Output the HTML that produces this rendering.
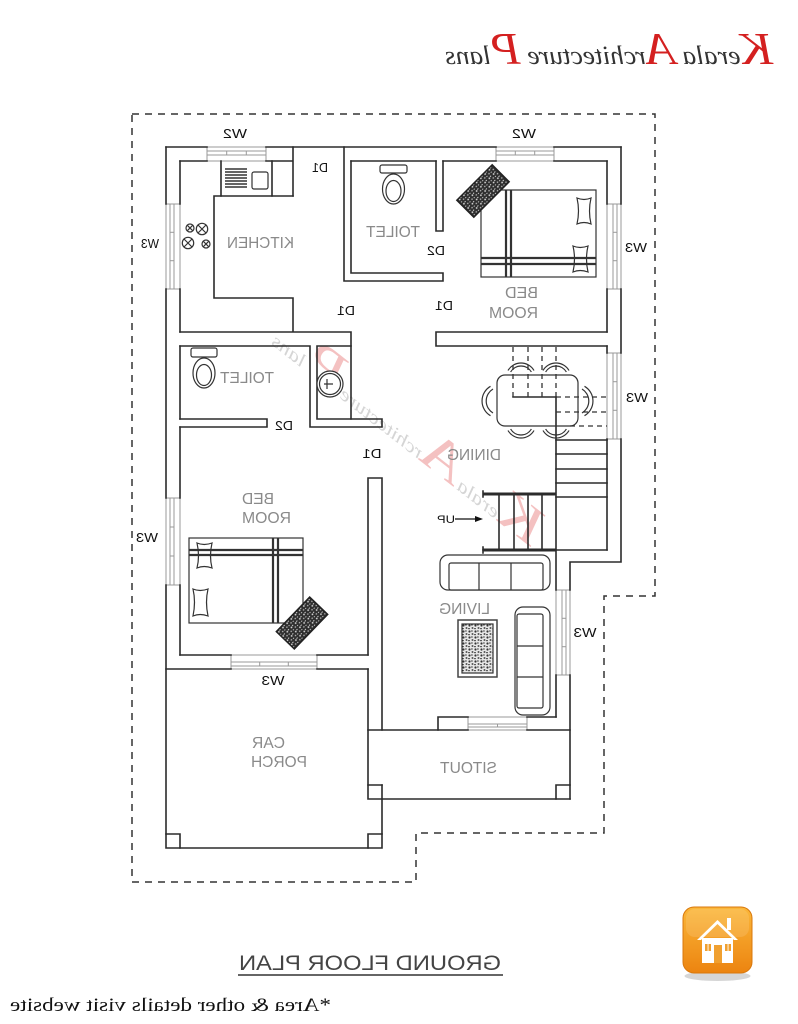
<!DOCTYPE html>
<html><head><meta charset="utf-8">
<style>
html,body{margin:0;padding:0;background:#fff;width:798px;height:1024px;overflow:hidden}
svg{display:block}
.lbl{font-family:"Liberation Sans",sans-serif;fill:#8a8a8a;font-size:16px}
.sm{font-family:"Liberation Sans",sans-serif;fill:#111;font-size:13px}
</style></head>
<body>
<svg width="798" height="1024" viewBox="0 0 798 1024" xmlns="http://www.w3.org/2000/svg">
<defs>
<pattern id="speck" width="6" height="6" patternUnits="userSpaceOnUse">
<rect width="6" height="6" fill="#2e2e2e"/>
<circle cx="1.5" cy="1.5" r="0.9" fill="#ddd"/>
<circle cx="4.5" cy="4" r="0.8" fill="#bbb"/>
<rect x="3" y="0.5" width="1.5" height="0.8" fill="#eee"/>
<rect x="0.5" y="4" width="1.2" height="1" fill="#ccc"/>
</pattern>
<pattern id="speck2" width="6" height="6" patternUnits="userSpaceOnUse">
<rect width="6" height="6" fill="#e8e8e8"/>
<circle cx="1.5" cy="1.5" r="1.1" fill="#333"/>
<circle cx="4.5" cy="4" r="1" fill="#555"/>
<rect x="3" y="0.5" width="1.8" height="1" fill="#444"/>
<rect x="0.3" y="4" width="1.4" height="1.2" fill="#222"/>
</pattern>
<linearGradient id="og" x1="0" y1="0" x2="0" y2="1">
<stop offset="0" stop-color="#fbb73a"/>
<stop offset="1" stop-color="#ec8410"/>
</linearGradient>
</defs>
<rect width="798" height="1024" fill="#fff"/>

<!-- Logo -->
<g transform="translate(609,0) scale(-1,1)">
<text x="0" y="64" text-anchor="middle" font-family="Liberation Serif, serif" font-style="italic" textLength="328" lengthAdjust="spacingAndGlyphs"><tspan fill="#d42020" font-size="46">K</tspan><tspan fill="#333" font-size="26">erala </tspan><tspan fill="#d42020" font-size="46">A</tspan><tspan fill="#333" font-size="26">rchitecture </tspan><tspan fill="#d42020" font-size="46">P</tspan><tspan fill="#333" font-size="26">lans</tspan></text>
</g>

<!-- Watermark -->
<g opacity="0.35" transform="translate(400,445) rotate(38) scale(-1,1)">
<text x="0" y="0" text-anchor="middle" font-family="Liberation Serif, serif" font-style="italic" textLength="330" lengthAdjust="spacingAndGlyphs"><tspan fill="#e05050" font-size="52">K</tspan><tspan fill="#888" font-size="18">erala </tspan><tspan fill="#e05050" font-size="52">A</tspan><tspan fill="#888" font-size="18">rchitecture </tspan><tspan fill="#e05050" font-size="52">P</tspan><tspan fill="#888" font-size="18">lans</tspan></text>
</g>

<!-- Dashed boundary -->
<path d="M132,114 H655 V596 H604 V833 H416 V882 H132 Z" fill="none" stroke="#333" stroke-width="1.5" stroke-dasharray="7 6"/>

<!-- Windows -->
<g fill="#fff" stroke="#999" stroke-width="1">
<rect x="207" y="147" width="59" height="14"/><line x1="207" y1="151" x2="266" y2="151"/><line x1="207" y1="155" x2="266" y2="155"/><line x1="226.7" y1="151" x2="226.7" y2="155"/><line x1="246.3" y1="151" x2="246.3" y2="155"/>
<rect x="496" y="147" width="58" height="14"/><line x1="496" y1="151" x2="554" y2="151"/><line x1="496" y1="155" x2="554" y2="155"/><line x1="515.3" y1="151" x2="515.3" y2="155"/><line x1="534.7" y1="151" x2="534.7" y2="155"/>
<rect x="231" y="655" width="86" height="14"/><line x1="231" y1="662" x2="317" y2="662"/><line x1="231" y1="666" x2="317" y2="666"/><line x1="259.7" y1="662" x2="259.7" y2="666"/><line x1="288.3" y1="662" x2="288.3" y2="666"/>
<rect x="468" y="717" width="59" height="13"/><line x1="468" y1="724" x2="527" y2="724"/><line x1="468" y1="727" x2="527" y2="727"/><line x1="497.5" y1="724" x2="497.5" y2="727"/>
<rect x="166" y="204" width="14" height="85"/><line x1="170" y1="204" x2="170" y2="289"/><line x1="174" y1="204" x2="174" y2="289"/><line x1="170" y1="232.3" x2="174" y2="232.3"/><line x1="170" y1="260.7" x2="174" y2="260.7"/>
<rect x="166" y="498" width="14" height="87"/><line x1="170" y1="498" x2="170" y2="585"/><line x1="174" y1="498" x2="174" y2="585"/><line x1="170" y1="527" x2="174" y2="527"/><line x1="170" y1="556" x2="174" y2="556"/>
<rect x="607" y="204" width="14" height="85"/><line x1="613" y1="204" x2="613" y2="289"/><line x1="617" y1="204" x2="617" y2="289"/><line x1="613" y1="232.3" x2="617" y2="232.3"/><line x1="613" y1="260.7" x2="617" y2="260.7"/>
<rect x="607" y="353" width="14" height="86"/><line x1="613" y1="353" x2="613" y2="439"/><line x1="617" y1="353" x2="617" y2="439"/><line x1="613" y1="381.7" x2="617" y2="381.7"/><line x1="613" y1="410.3" x2="617" y2="410.3"/>
<rect x="556" y="590" width="14" height="85"/><line x1="562" y1="590" x2="562" y2="675"/><line x1="566" y1="590" x2="566" y2="675"/><line x1="562" y1="618.3" x2="566" y2="618.3"/><line x1="562" y1="646.7" x2="566" y2="646.7"/>
</g>

<!-- Walls -->
<g fill="none" stroke="#2b2b2b" stroke-width="1.6" stroke-linecap="square">
<path d="M166,147 H207 M266,147 H496 M554,147 H621"/>
<path d="M621,147 V204 M621,289 V353 M621,439 V562 H570 V590 M570,675 V799"/>
<path d="M607,161 V204 M607,289 V332 M607,346 V353 M607,439 V550"/>
<path d="M180,161 H207 M266,161 H293 M293,147 V196 M351,161 H436 M443,161 H496 M554,161 H607"/>
<path d="M166,147 V204 M166,289 V498 M166,585 V848 H382 V785"/>
<path d="M180,161 V204 M180,289 V332 M180,346 V419 M180,427 V498 M180,585 V655"/>
<path d="M214,196 H293 M214,196 V298 H293 V332 M180,332 H351 V419"/>
<path d="M221,161 V196 M272,161 V196"/>
<path d="M180,346 H310 V427 M317,346 H351 M317,346 V419 H382 V427 H310 M180,419 H267 V427 H180"/>
<path d="M344,147 V281 H443 V273 H351 V161 M436,161 V231 H443 V161"/>
<path d="M436,332 H607 M436,346 H607 M436,332 V346"/>
<path d="M368,478 H382 V730 M368,478 V655 M368,669 V799 H570"/>
<path d="M180,655 H231 M317,655 H368 M166,669 H231 M317,669 H368"/>
<path d="M368,730 H468 M527,730 H570"/>
<path d="M438,717 H468 M438,717 V730 M527,717 H556"/>
<path d="M556,397 V590 M556,675 V717"/>
<path d="M368,785 H382 M556,785 V799 M556,785 H570"/>
<path d="M166,834 H180 V848 M368,834 H382 M368,834 V848"/>
<path d="M556,440 H607 M556,454 H607 M556,469 H607 M556,483 H607 M556,497 H607"/>
<path d="M483,550 H607"/>
<path d="M499,494 V550 M514,494 V550 M528,494 V550 M542,494 V550 M483,491 V497 M483,547 V553"/>
<path d="M513,397 H556"/>
</g>
<g stroke="#2b2b2b" fill="none">
<path d="M483,494 H556" stroke-width="3"/>
<path d="M483,550 H556" stroke-width="3"/>
</g>
<g stroke="#333" stroke-width="1.3" stroke-dasharray="5 4" fill="none">
<path d="M513,347 V397 M528,347 V397 M542,347 V397 M556,347 V397"/>
<path d="M556,397 H607 M556,412 H607 M570,426 H607"/>
</g>

<!-- Kitchen counter items -->
<g fill="none" stroke="#333" stroke-width="1.2">
<path d="M225,169 H247 M225,172 H247 M225,175 H247 M225,178 H247 M225,181 H247 M225,184 H247 M225,187 H247" stroke-width="1.6"/>
<rect x="252" y="172" width="16" height="17" rx="2"/>
<circle cx="190" cy="228" r="4"/><path d="M187.2,225.2 L192.8,230.8 M192.8,225.2 L187.2,230.8"/>
<circle cx="202" cy="229" r="5.7"/><path d="M198,225 L206,233 M206,225 L198,233"/>
<circle cx="188" cy="243" r="5.7"/><path d="M184,239 L192,247 M192,239 L184,247"/>
<circle cx="206" cy="244" r="4"/><path d="M203.2,241.2 L208.8,246.8 M208.8,241.2 L203.2,246.8"/>
</g>

<!-- Toilets -->
<g fill="#fff" stroke="#333" stroke-width="1.2">
<rect x="380" y="165" width="27" height="8" rx="2"/>
<ellipse cx="393.5" cy="189" rx="11" ry="15"/>
<ellipse cx="393.5" cy="191" rx="7.5" ry="10.5"/>
<rect x="191" y="348" width="26" height="9" rx="2"/>
<ellipse cx="204" cy="373" rx="11" ry="15"/>
<ellipse cx="204" cy="375" rx="7.5" ry="10.5"/>
<circle cx="330" cy="384" r="13"/>
<circle cx="330" cy="384" r="10.5"/>
<path d="M324,384 H333 M327,379 V389" fill="none"/>
</g>

<!-- Bed 1 -->
<g fill="none" stroke="#333" stroke-width="1.2">
<rect x="481" y="190" width="115" height="87" fill="#fff"/>
<path d="M506,190 V277 M511,190 V277" stroke-width="2.2"/>
<path d="M481,258 H596 M481,264 H596" stroke-width="2.2"/>
<path d="M577,198 Q584,201 591,198 Q588,211 591,224 Q584,221 577,224 Q580,211 577,198 Z"/>
<path d="M573,246 Q580,249 588,246 Q585,259 588,272 Q580,269 573,272 Q576,259 573,246 Z"/>
</g>
<g transform="translate(483,191) rotate(-45)">
<rect x="-25" y="-12" width="50" height="24" fill="url(#speck)" stroke="#222" stroke-width="1.5"/>
</g>

<!-- Bed 2 -->
<g fill="none" stroke="#333" stroke-width="1.2">
<rect x="189" y="538" width="114" height="85" fill="#fff"/>
<path d="M273,538 V623 M278,538 V623" stroke-width="2.2"/>
<path d="M189,550 H303 M189,555 H303" stroke-width="2.2"/>
<path d="M197,543 Q204,546 212,543 Q209,556 212,568 Q204,565 197,568 Q200,556 197,543 Z"/>
<path d="M193,589 Q200,592 208,589 Q205,602 208,616 Q200,613 193,616 Q196,602 193,589 Z"/>
</g>
<g transform="translate(302,623) rotate(-46)">
<rect x="-24" y="-12.5" width="48" height="25" fill="url(#speck)" stroke="#222" stroke-width="1.5"/>
</g>

<!-- Dining -->
<g fill="none" stroke="#333" stroke-width="1.2">
<rect x="497" y="375" width="81" height="51" rx="8" fill="none"/>
<path d="M508,370.5 A15,15 0 0 1 534,370.5 M510.6,372 A12,12 0 0 1 531.4,372"/>
<path d="M543,370.5 A15,15 0 0 1 569,370.5 M545.6,372 A12,12 0 0 1 566.4,372"/>
<path d="M508,430.5 A15,15 0 0 0 534,430.5 M510.6,429 A12,12 0 0 0 531.4,429"/>
<path d="M543,430.5 A15,15 0 0 0 569,430.5 M545.6,429 A12,12 0 0 0 566.4,429"/>
<path d="M490.5,386.3 A17,17 0 0 0 490.5,415.7 M493,389 A14,14 0 0 0 493,413"/>
<path d="M584.5,386.3 A17,17 0 0 1 584.5,415.7 M582,389 A14,14 0 0 1 582,413"/>
</g>

<!-- UP arrow -->
<path d="M455,519 H477" stroke="#111" stroke-width="1.2"/>
<polygon points="483,519 475,516 475,522" fill="#111"/>

<!-- Living sofas and rug -->
<g fill="#fff" stroke="#333" stroke-width="1.2">
<rect x="440" y="555" width="110" height="35" rx="8"/>
<rect x="449" y="563" width="94" height="27" rx="2"/>
<path d="M479,563 V590 M511,563 V590" fill="none"/>
<rect x="515" y="607" width="35" height="108" rx="8"/>
<rect x="517" y="614" width="26" height="94" rx="2"/>
<path d="M517,646 H543 M517,677 H543" fill="none"/>
<rect x="458" y="620" width="39" height="57" fill="#fff" stroke="#444" stroke-width="1.5"/>
<rect x="462" y="624" width="31" height="49" fill="url(#speck2)" stroke="#333"/>
</g>

<!-- Room labels (mirrored) -->
<g class="lbl">
<text transform="translate(260.5,248) scale(-1,1)" text-anchor="middle" textLength="67" lengthAdjust="spacingAndGlyphs">KITCHEN</text>
<text transform="translate(393,237) scale(-1,1)" text-anchor="middle" textLength="54" lengthAdjust="spacingAndGlyphs">TOILET</text>
<text transform="translate(521.5,298) scale(-1,1)" text-anchor="middle" textLength="33" lengthAdjust="spacingAndGlyphs">BED</text>
<text transform="translate(513.5,318) scale(-1,1)" text-anchor="middle" textLength="49" lengthAdjust="spacingAndGlyphs">ROOM</text>
<text transform="translate(247,383) scale(-1,1)" text-anchor="middle" textLength="54" lengthAdjust="spacingAndGlyphs">TOILET</text>
<text transform="translate(258,504) scale(-1,1)" text-anchor="middle" textLength="32" lengthAdjust="spacingAndGlyphs">BED</text>
<text transform="translate(266.5,523) scale(-1,1)" text-anchor="middle" textLength="49" lengthAdjust="spacingAndGlyphs">ROOM</text>
<text transform="translate(474,460) scale(-1,1)" text-anchor="middle" textLength="54" lengthAdjust="spacingAndGlyphs">DINING</text>
<text transform="translate(464.5,614) scale(-1,1)" text-anchor="middle" textLength="51" lengthAdjust="spacingAndGlyphs">LIVING</text>
<text transform="translate(268.5,748) scale(-1,1)" text-anchor="middle" textLength="33" lengthAdjust="spacingAndGlyphs">CAR</text>
<text transform="translate(279,767) scale(-1,1)" text-anchor="middle" textLength="56" lengthAdjust="spacingAndGlyphs">PORCH</text>
<text transform="translate(468.5,773) scale(-1,1)" text-anchor="middle" textLength="57" lengthAdjust="spacingAndGlyphs">SITOUT</text>
</g>

<!-- Small labels (mirrored) -->
<g class="sm">
<text transform="translate(235,138) scale(-1,1)" text-anchor="middle" textLength="24" lengthAdjust="spacingAndGlyphs">W2</text>
<text transform="translate(524,138) scale(-1,1)" text-anchor="middle" textLength="24" lengthAdjust="spacingAndGlyphs">W2</text>
<text transform="translate(150,248) scale(-1,1)" text-anchor="middle" textLength="18" lengthAdjust="spacingAndGlyphs">W3</text>
<text transform="translate(147,542) scale(-1,1)" text-anchor="middle" textLength="22" lengthAdjust="spacingAndGlyphs">W3</text>
<text transform="translate(636,252) scale(-1,1)" text-anchor="middle" textLength="22" lengthAdjust="spacingAndGlyphs">W3</text>
<text transform="translate(637,402) scale(-1,1)" text-anchor="middle" textLength="22" lengthAdjust="spacingAndGlyphs">W3</text>
<text transform="translate(585,637) scale(-1,1)" text-anchor="middle" textLength="23" lengthAdjust="spacingAndGlyphs">W3</text>
<text transform="translate(273,685) scale(-1,1)" text-anchor="middle" textLength="23" lengthAdjust="spacingAndGlyphs">W3</text>
<text transform="translate(320,172) scale(-1,1)" text-anchor="middle" textLength="16" lengthAdjust="spacingAndGlyphs">D1</text>
<text transform="translate(346,315) scale(-1,1)" text-anchor="middle" textLength="18" lengthAdjust="spacingAndGlyphs">D1</text>
<text transform="translate(444,310) scale(-1,1)" text-anchor="middle" textLength="18" lengthAdjust="spacingAndGlyphs">D1</text>
<text transform="translate(436,255) scale(-1,1)" text-anchor="middle" textLength="18" lengthAdjust="spacingAndGlyphs">D2</text>
<text transform="translate(284,430) scale(-1,1)" text-anchor="middle" textLength="18" lengthAdjust="spacingAndGlyphs">D2</text>
<text transform="translate(372,458) scale(-1,1)" text-anchor="middle" textLength="19" lengthAdjust="spacingAndGlyphs">D1</text>
<text transform="translate(446,523) scale(-1,1)" text-anchor="middle" font-size="11" textLength="18" lengthAdjust="spacingAndGlyphs">UP</text>
</g>

<!-- Bottom title -->
<text transform="translate(370,970) scale(-1,1)" text-anchor="middle" font-family="Liberation Sans, sans-serif" font-size="21" fill="#444" textLength="262" lengthAdjust="spacingAndGlyphs">GROUND FLOOR PLAN</text>
<line x1="238" y1="975" x2="503" y2="975" stroke="#666" stroke-width="2"/>
<text transform="translate(170.5,1011) scale(-1,1)" text-anchor="middle" font-family="Liberation Serif, serif" font-size="19" fill="#111" textLength="321" lengthAdjust="spacingAndGlyphs">*Area &amp; other details visit website</text>

<!-- Home icon -->
<ellipse cx="717.5" cy="976" rx="33" ry="5" fill="#bbb" opacity="0.6"/>
<rect x="683" y="907" width="69" height="66" rx="11" fill="url(#og)" stroke="#d9780c" stroke-width="1"/>
<rect x="686" y="909" width="63" height="28" rx="9" fill="#fff" opacity="0.12"/>
<g fill="#fff">
<polygon points="717.5,920 697,940 701,940 717.5,924 734,940 738,940"/>
<rect x="727" y="918" width="4" height="12"/>
<rect x="702" y="938" width="31" height="25"/>
</g>
<rect x="714" y="945" width="8" height="18" fill="#f0a030"/>
<g fill="#f0a030">
<rect x="705" y="944" width="6" height="7"/>
<rect x="725" y="944" width="6" height="7"/>
</g>
<g fill="#fff">
<rect x="707.6" y="944" width="0.9" height="7"/>
<rect x="727.6" y="944" width="0.9" height="7"/>
</g>
</svg>
</body></html>
